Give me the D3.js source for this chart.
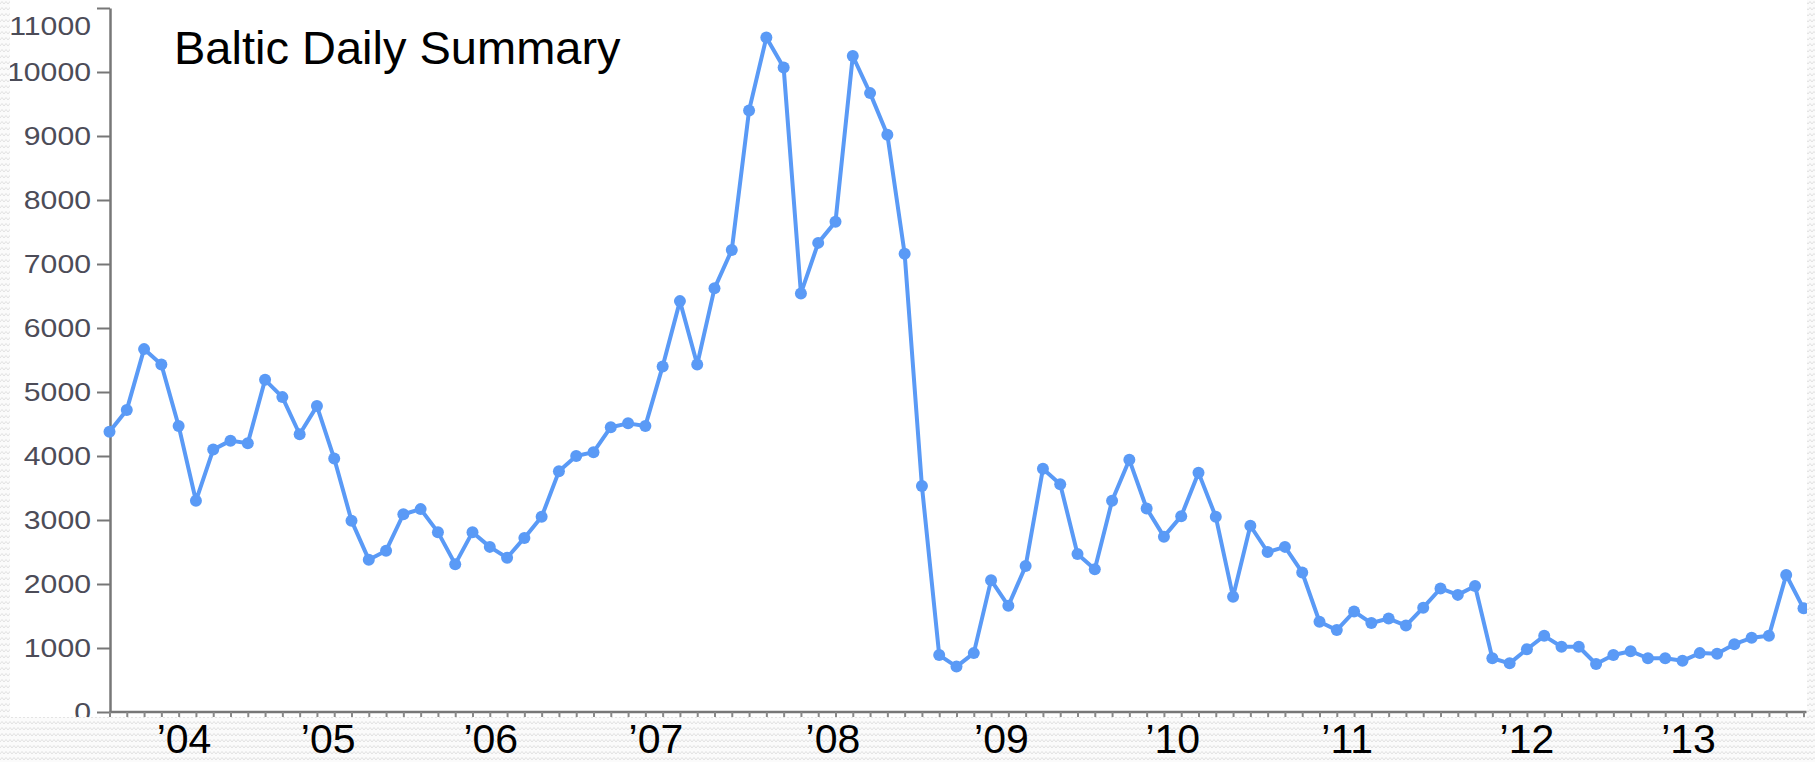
<!DOCTYPE html>
<html>
<head>
<meta charset="utf-8">
<script src="https://cdn.jsdelivr.net/npm/d3@7"></script>
<style>
html,body{margin:0;padding:0;background:#fff;}
svg{display:block;}
</style>
</head>
<body>
<svg id="chart" width="1815" height="762"></svg>
<script>
// ---- data ----
const values = [
  4380, 4720, 5670, 5430, 4470, 3300, 4100, 4240, 4200, 5190,
  4920, 4340, 4780, 3960, 2990, 2380, 2520, 3090, 3170, 2810,
  2310, 2810, 2580, 2410, 2720, 3050, 3760, 4000, 4060, 4450,
  4510, 4470, 5400, 6420, 5430, 6620, 7220, 9400, 10540, 10070,
  6540, 7330, 7660, 10250, 9670, 9020, 7160, 3530, 890, 710,
  920, 2060, 1660, 2280, 3800, 3560, 2470, 2230, 3300, 3940,
  3180, 2740, 3060, 3740, 3050, 1800, 2910, 2500, 2580, 2180,
  1410, 1280, 1570, 1390, 1460, 1350, 1630, 1930, 1830, 1970,
  840, 760, 980, 1190, 1020, 1020, 750, 890, 950, 840,
  840, 800, 920, 910, 1060, 1160, 1190, 2140, 1620
];
const yTickValues = [0, 1000, 2000, 3000, 4000, 5000, 6000, 7000, 8000, 9000, 10000, 11000];
const yearLabels = ["\u201904", "\u201905", "\u201906", "\u201907", "\u201908", "\u201909", "\u201910", "\u201911", "\u201912", "\u201913"];
const yearPositions = [4.31, 12.65, 22.06, 31.61, 41.85, 51.6, 61.51, 71.6, 82.0, 91.35];
const titleText = "Baltic Daily Summary";

// ---- layout ----
const W = 1815, H = 762;
const FONT = "'Liberation Sans', Arial, Helvetica, sans-serif";
const svg = d3.select("#chart");
const defs = svg.append("defs");

const pat = defs.append("pattern")
  .attr("id", "zig").attr("patternUnits", "userSpaceOnUse")
  .attr("width", 8).attr("height", 6);
pat.append("rect").attr("width", 8).attr("height", 6).attr("fill", "#fbfbfb");
pat.append("path")
  .attr("d", "M0,4 L2,1.5 L4,4 L6,1.5 L8,4")
  .attr("fill", "none").attr("stroke", "#e2e2e2").attr("stroke-width", 1);

defs.append("clipPath").attr("id", "plotclip")
  .append("rect").attr("x", 10).attr("y", 0).attr("width", 1797).attr("height", 717);

// textured background with white canvas
svg.append("rect").attr("width", W).attr("height", H).attr("fill", "url(#zig)");
svg.append("rect").attr("x", 10).attr("y", 0).attr("width", 1797).attr("height", 717).attr("fill", "#fff");

const g = svg.append("g").attr("clip-path", "url(#plotclip)");

const x = d3.scaleLinear().domain([0, values.length - 1]).range([109.5, 1803.5]);
const y = d3.scaleLinear().domain([0, 11000]).range([712, 8]);

// y axis
const yAxis = g.append("g").attr("transform", "translate(110,0)")
  .call(d3.axisLeft(y).tickValues(yTickValues).tickFormat(d3.format("d"))
    .tickSize(13).tickSizeOuter(0).tickPadding(7));
yAxis.select(".domain").attr("stroke", "#777").attr("stroke-width", 2.5);
yAxis.selectAll(".tick line").attr("stroke", "#777").attr("stroke-width", 2);
const sx = 1.14;
yAxis.selectAll(".tick text")
  .attr("x", -19 / sx)
  .attr("transform", `scale(${sx},1)`)
  .attr("fill", "#4c4c58")
  .style("font-family", FONT)
  .style("font-size", "26.5px");
yAxis.selectAll(".tick").filter(d => d === 11000).select("text").attr("dy", "1.0em");

// x axis
const xAxis = g.append("g").attr("transform", "translate(0,712)")
  .call(d3.axisBottom(x).tickValues(d3.range(values.length)).tickSize(7).tickSizeOuter(0).tickFormat(""));
xAxis.select(".domain").attr("stroke", "#777").attr("stroke-width", 2.5)
  .attr("d", `M${x(0)},0H${x(values.length - 1) + 3}`);
xAxis.selectAll(".tick line").attr("stroke", "#888").attr("stroke-width", 2);

// line + markers
const lineColor = "#5a9af6";
g.append("path")
  .datum(values)
  .attr("fill", "none")
  .attr("stroke", lineColor)
  .attr("stroke-width", 4)
  .attr("stroke-linejoin", "round")
  .attr("d", d3.line().x((d, i) => x(i)).y(d => y(d)));

g.selectAll("circle.pt")
  .data(values)
  .join("circle")
  .attr("class", "pt")
  .attr("cx", (d, i) => x(i))
  .attr("cy", d => y(d))
  .attr("r", 6)
  .attr("fill", lineColor);

// title
svg.append("text")
  .attr("x", 174).attr("y", 64)
  .style("font-family", FONT)
  .style("font-size", "47px")
  .attr("fill", "#000")
  .text(titleText);

// year labels
svg.append("g").selectAll("text")
  .data(yearLabels)
  .join("text")
  .attr("x", (d, i) => x(yearPositions[i]))
  .attr("y", 753)
  .attr("text-anchor", "middle")
  .style("font-family", FONT)
  .style("font-size", "41px")
  .attr("fill", "#000")
  .text(d => d);
</script>
</body>
</html>
